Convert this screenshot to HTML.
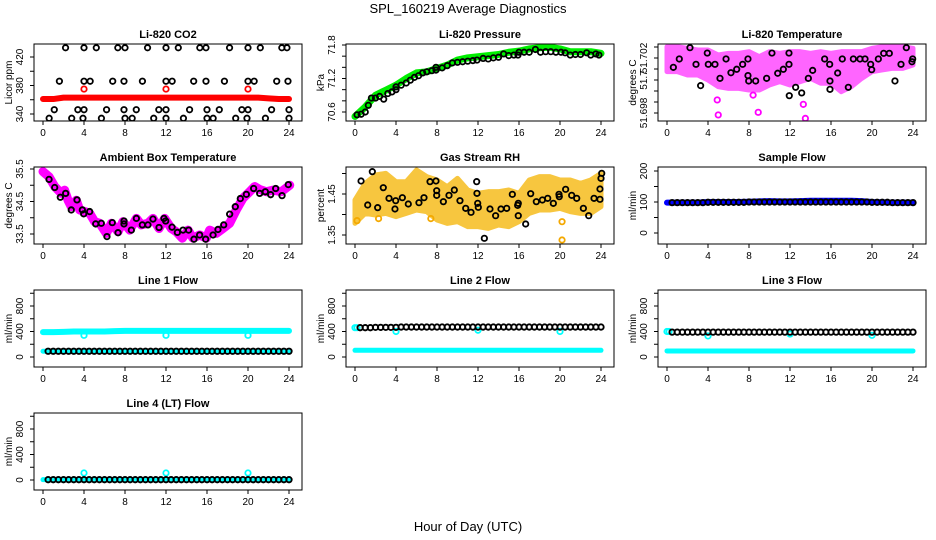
<!DOCTYPE html>
<html><head><meta charset="utf-8"><style>
body{margin:0;background:#fff}
svg{display:block;font-family:"Liberation Sans",Arial,sans-serif}
</style></head><body>
<svg id="c" width="936" height="540" viewBox="0 0 936 540">
<rect width="936" height="540" fill="#fff"/>
<text x="468" y="13" text-anchor="middle" font-size="13">SPL_160219  Average Diagnostics</text>
<text x="468" y="531" text-anchor="middle" font-size="13">Hour of Day (UTC)</text>
</svg>
<script>
const hours25=[0,1,2,3,4,5,6,7,8,9,10,11,12,13,14,15,16,17,18,19,20,21,22,23,24];
const halfHours=[0.5,1,1.5,2,2.5,3,3.5,4,4.5,5,5.5,6,6.5,7,7.5,8,8.5,9,9.5,10,10.5,11,11.5,12,12.5,13,13.5,14,14.5,15,15.5,16,16.5,17,17.5,18,18.5,19,19.5,20,20.5,21,21.5,22,22.5,23,23.5,24];
const xTicks=[0,4,8,12,16,20,24];

// CO2
const co2Red=[361,361,363,363,363,363,363,363,363,363,363,363,363,363,363,363,363,363,363,363,363,363,362,361,361];
const co2RedOutH=[4,12,20];const co2RedOutV=[375,375,375];
const co2BlkH=[2.2,4.0,5.2,7.3,8.0,10.2,12.0,13.2,15.3,15.9,18.2,20.0,21.2,23.3,23.8,1.6,4.0,4.6,6.8,7.9,9.7,12.0,12.6,14.7,15.9,17.7,20.0,20.6,22.8,23.9,1.1,3.4,4.0,6.2,7.9,9.1,11.3,12.0,14.3,16.0,17.2,19.4,20.0,22.3,24.0,0.6,2.8,3.9,5.7,8.0,8.7,10.8,12.0,13.7,16.0,16.6,18.8,19.9,21.7,24.0];
const co2BlkV=[433,433,433,433,433,433,433,433,433,433,433,433,433,433,433,386,386,386,386,386,386,386,386,386,386,386,386,386,386,386,346,346,346,346,346,346,346,346,346,346,346,346,346,346,346,334,334,334,334,334,334,334,334,334,334,334,334,334,334,334];

// Pressure
const presGreen=[70.52,70.69,70.9,70.99,71.08,71.2,71.3,71.32,71.38,71.44,71.53,71.57,71.59,71.61,71.63,71.67,71.69,71.73,71.75,71.76,71.73,71.68,71.68,71.68,71.65];
const presBlkH=[0.2,0.6,1.0,1.3,1.6,2.0,2.4,2.8,3.2,3.6,4.0,4.0,4.5,5.0,5.4,5.8,6.2,6.6,7.0,7.5,7.9,7.9,8.5,9.0,9.5,10.0,10.5,11.0,11.5,11.9,12.5,13.0,13.5,14.0,14.5,15.0,15.5,15.9,16.0,16.5,17.0,17.6,18.1,18.6,19.1,19.6,20.1,20.5,21.0,21.5,22.0,22.6,23.0,23.5,23.8];
const presBlkV=[70.55,70.56,70.6,70.72,70.85,70.85,70.88,70.83,70.93,70.96,71.0,71.05,71.08,71.12,71.17,71.22,71.25,71.3,71.32,71.34,71.35,71.4,71.39,71.43,71.48,71.49,71.5,71.51,71.52,71.53,71.56,71.55,71.57,71.58,71.64,71.61,71.62,71.62,71.67,71.67,71.67,71.72,71.67,71.68,71.68,71.67,71.67,71.66,71.62,71.63,71.63,71.66,71.62,71.64,71.62];

// Li-820 temperature
const ltUpper=[51.70282,51.70282,51.7027,51.70258,51.70258,51.70222,51.70234,51.70234,51.70246,51.7021,51.70246,51.70234,51.70246,51.70246,51.70234,51.70246,51.70234,51.70246,51.70246,51.70246,51.7027,51.70282,51.70282,51.70282,51.7027];
const ltLower=[51.70101,51.70101,51.70076,51.70076,51.7004,51.69992,51.69979,51.69979,51.69967,51.69967,51.70004,51.70028,51.70004,51.70028,51.70052,51.70016,51.70016,51.69955,51.69992,51.70052,51.70101,51.70113,51.70125,51.70125,51.70149];
const ltOutH=[4.9,5.0,8.4,8.9,13.3,13.5];const ltOutV=[51.69895,51.69786,51.6993,51.69805,51.69863,51.69761];
const ltBlkH=[0.62,1.2,2.24,2.83,3.28,3.93,4.03,4.68,5.17,5.76,6.24,6.8,7.38,7.9,7.9,7.97,8.65,9.72,10.24,10.8,11.35,11.9,11.9,11.93,12.55,13.14,13.79,14.21,15.38,15.87,15.9,15.9,16.65,17.1,17.69,18.18,18.83,19.32,19.87,19.97,20.62,21.14,21.69,22.24,22.83,23.35,23.9,23.97];
const ltBlkV=[51.70132,51.70193,51.70275,51.70154,51.69999,51.70236,51.70154,51.70154,51.70052,51.70193,51.70093,51.70118,51.70154,51.70193,51.70072,51.70033,51.70033,51.70052,51.70236,51.70089,51.70118,51.70236,51.70154,51.69926,51.69987,51.69946,51.70052,51.7011,51.70193,51.70154,51.70033,51.69972,51.70091,51.70193,51.69987,51.70193,51.70193,51.70193,51.70154,51.70115,51.70193,51.70234,51.70234,51.70033,51.70154,51.70275,51.70173,51.70193];

// Ambient box temp
const ambH=[0,0.59,1.14,1.79,2.11,2.44,2.76,3.25,3.58,4.07,4.55,5.04,5.53,6.18,6.67,7.32,7.8,8.46,9.11,9.59,10.24,10.73,11.32,11.87,12.52,13.0,13.59,14.15,14.63,15.28,15.93,16.26,16.91,17.56,18.21,18.86,19.51,20.16,20.65,21.14,21.79,22.44,23.25,24.07];
const ambV=[35.42,35.26,34.96,34.75,34.85,34.54,34.34,34.54,34.24,34.19,34.14,33.88,33.83,33.52,33.83,33.57,33.88,33.62,33.98,33.78,33.83,33.98,33.67,33.98,33.67,33.57,33.37,33.62,33.37,33.47,33.37,33.62,33.52,33.67,33.83,34.24,34.6,34.8,34.96,34.87,34.8,34.85,34.8,35.0];
const ambBlkH=[0.59,1.14,1.69,2.21,2.76,3.32,3.84,3.97,4.55,5.14,5.69,6.24,6.76,7.32,7.9,7.9,8.62,9.11,9.69,10.24,10.73,11.32,11.8,11.97,12.59,13.11,13.66,14.21,14.73,15.28,15.87,16.59,17.07,17.63,18.21,18.76,19.25,19.84,20.55,21.14,21.69,22.21,22.7,23.32,23.93];
const ambBlkV=[35.18,34.93,34.63,34.75,34.24,34.55,34.24,34.12,34.19,33.81,33.83,33.42,33.85,33.54,33.9,33.81,33.62,33.98,33.78,33.78,33.96,33.7,33.98,33.9,33.71,33.55,33.62,33.62,33.34,33.47,33.34,33.47,33.64,33.78,34.11,34.34,34.59,34.72,34.9,34.75,34.8,34.71,34.9,34.68,35.02];

// Gas stream RH
const rhUpper=[1.4354,1.476,1.4963,1.5004,1.48,1.48,1.5085,1.4923,1.4841,1.4679,1.4882,1.4597,1.4516,1.4557,1.4557,1.4597,1.4516,1.4841,1.4923,1.4923,1.4841,1.4841,1.476,1.4841,1.5004];
const rhLower=[1.3784,1.4028,1.3988,1.4028,1.3947,1.4028,1.411,1.4069,1.3866,1.3784,1.3825,1.3703,1.3703,1.3662,1.3744,1.3703,1.3825,1.4028,1.411,1.411,1.415,1.4069,1.4028,1.4028,1.4191];
const rhOutH=[20.2,20.2,0.2,2.3,7.4];const rhOutV=[1.3825,1.3378,1.385,1.39,1.39];
const rhBlkH=[0.59,1.24,1.69,2.21,2.76,3.32,3.9,3.97,4.62,5.2,6.24,6.73,7.32,7.9,7.97,7.97,8.62,9.17,9.69,10.24,10.8,11.32,11.87,11.9,11.97,12.03,12.62,13.17,13.72,14.24,14.8,15.35,15.87,15.93,15.93,16.65,17.14,17.69,18.28,18.8,19.35,19.9,19.93,20.55,21.14,21.63,22.28,22.8,23.32,23.9,23.9,24.0,24.07];
const rhBlkV=[1.4817,1.4232,1.5045,1.4167,1.4654,1.4394,1.4134,1.4337,1.441,1.4256,1.4288,1.441,1.4801,1.4817,1.4581,1.4467,1.4313,1.4467,1.4597,1.4337,1.415,1.4053,1.4801,1.4516,1.4272,1.4175,1.3419,1.4134,1.3971,1.4134,1.415,1.4492,1.4223,1.4272,1.3971,1.3768,1.4508,1.4313,1.4354,1.4394,1.4272,1.4492,1.4435,1.4614,1.4467,1.4394,1.415,1.3971,1.4394,1.437,1.4622,1.4882,1.5004];

// Sample flow
const sampleBlue=[98,98,98,98,100,100,100,100,101,102,103,102,102,103,104,104,104,104,104,103,100,99,98,98,98];
const sampleBlk=[98,98,98,98,98,98,98,99,99,99,99,99,99,99,99,100,100,100,100,100,100,100,100,100,100,100,100,100,100,100,100,100,100,100,100,100,100,100,100,99,99,99,99,98,98,98,98,98];

// Line flows
const l1CyanHi=[390,390,395,400,400,400,400,405,410,410,410,410,410,410,410,410,410,410,410,410,410,410,410,410,410];
const l1CyanLo=[90,90,90,90,90,90,90,90,90,90,90,90,90,90,90,90,90,90,90,90,90,90,90,90,90];
const l1Blk=[90,90,90,90,90,90,90,90,90,90,90,90,90,90,90,90,90,90,90,90,90,90,90,90,90,90,90,90,90,90,90,90,90,90,90,90,90,90,90,90,90,90,90,90,90,90,90,90];
const l1DotH=[4,12,20];const l1DotV=[340,340,340];
const l2CyanLo=[105,105,105,105,105,105,105,105,105,105,105,105,105,105,105,105,105,105,105,105,105,105,105,105,105];
const l2Blk=[460,460,460,465,465,465,465,465,470,470,470,470,470,470,470,470,470,470,470,470,470,470,470,470,470,470,470,470,470,470,470,470,470,470,470,470,470,470,470,470,470,470,470,470,470,470,470,470];
const l2DotH=[0,0.2,4,12,20];const l2DotV=[460,460,400,420,400];
const l3CyanLo=[95,95,95,95,95,95,95,95,95,95,95,95,95,95,95,95,95,95,95,95,95,95,95,95,95];
const l3Blk=[390,390,390,390,390,390,390,390,390,390,390,390,390,390,390,390,390,390,390,390,390,390,390,390,390,390,390,390,390,390,390,390,390,390,390,390,390,390,390,390,390,390,390,390,390,390,390,390];
const l3DotH=[0,0.2,4,12,20];const l3DotV=[400,400,330,360,340];
const l4CyanLo=[5,5,5,5,5,5,5,5,5,5,5,5,5,5,5,5,5,5,5,5,5,5,5,5,5];
const l4Blk=[5,5,5,5,5,5,5,5,5,5,5,5,5,5,5,5,5,5,5,5,5,5,5,5,5,5,5,5,5,5,5,5,5,5,5,5,5,5,5,5,5,5,5,5,5,5,5,5];
const l4DotH=[4,12,20];const l4DotV=[110,110,110];

const svg=document.getElementById('c');
const NS='http://www.w3.org/2000/svg';
function mk(tag,attrs,parent){const e=document.createElementNS(NS,tag);for(const k in attrs)e.setAttribute(k,attrs[k]);(parent||svg).appendChild(e);return e;}

function panel(col,row,title,ytitle,anchor,yticks,ylabels,name){
  const left=34+312*col,top=44+123*row,w=268,h=77;
  const g=mk('g',{});
  
  
  const x=v=>left+9+v*10.25;
  const [va,oa,vb,ob]=anchor;
  const y=v=>top+oa+(v-va)*(ob-oa)/(vb-va);
  const t=mk('text',{x:left+w/2,y:top-6,'text-anchor':'middle','font-size':11,'font-weight':'bold'},g);
  t.textContent=title;
  
  
  const yt=mk('text',{x:0,y:0,'text-anchor':'middle','font-size':10,transform:`translate(${left-22},${top+h/2}) rotate(-90)`},g);
  yt.textContent=ytitle;
  
  
  const xa=mk('g',{stroke:'#000','stroke-width':1},g);
  
  
  mk('line',{x1:x(xTicks[0]),x2:x(xTicks[xTicks.length-1]),y1:top+h,y2:top+h},xa);
  xTicks.forEach(v=>{mk('line',{x1:x(v),x2:x(v),y1:top+h,y2:top+h+4},xa);
    const l=mk('text',{x:x(v),y:top+h+15,'text-anchor':'middle','font-size':10,stroke:'none'},xa);l.textContent=v;});
  const ya=mk('g',{stroke:'#000','stroke-width':1},g);
  
  
  mk('line',{x1:left,x2:left,y1:y(yticks[0]),y2:y(yticks[yticks.length-1])},ya);
  yticks.forEach((v,i)=>{mk('line',{x1:left-4,x2:left,y1:y(v),y2:y(v)},ya);
    if(ylabels[i]){const l=mk('text',{x:0,y:0,'text-anchor':'middle','font-size':10,stroke:'none',transform:`translate(${left-11},${y(v)}) rotate(-90)`},ya);l.textContent=ylabels[i];}});
  const clip='clip'+col+row;
  const cp=mk('clipPath',{id:clip},g);mk('rect',{x:left,y:top,width:w,height:h},cp);
  const d=mk('g',{'clip-path':`url(#${clip})`},g);
  
  
  mk('rect',{x:left,y:top,width:w,height:h,fill:'none',stroke:'#000','stroke-width':1},g);
  return {x,y,d};
}
function line(p,hs,vs,color,wd,nm){
  const e=mk('polyline',{points:hs.map((hh,i)=>p.x(hh)+','+p.y(vs[i])).join(' '),fill:'none',stroke:color,'stroke-width':wd,'stroke-linejoin':'round','stroke-linecap':'round'},p.d);
  
  
}
function pts(p,hs,vs,color,nm,sw){
  const g=mk('g',{fill:'none',stroke:color,'stroke-width':sw||1.8},p.d);
  
  
  hs.forEach((hh,i)=>{mk('circle',{cx:p.x(hh),cy:p.y(vs[i]),r:2.7},g);});
}
function band(p,hs,up,lo,color,op,nm){
  const a=hs.map((hh,i)=>p.x(hh)+','+p.y(up[i]));
  const b=hs.map((hh,i)=>p.x(hh)+','+p.y(lo[i])).reverse();
  const e=mk('polygon',{points:a.concat(b).join(' '),fill:color,stroke:color,'stroke-width':5,'stroke-linejoin':'round',opacity:op},p.d);
  
  
}

let p=panel(0,0,'Li-820 CO2','Licor ppm',[340,70,420,13],[340,360,380,400,420],['340','','380','','420'],'co2');
line(p,hours25,co2Red,'#ff0000',6,'co2-red-series');
pts(p,co2RedOutH,co2RedOutV,'#ff0000','co2-red-outliers');
pts(p,co2BlkH,co2BlkV,'#000','co2-black-points');

p=panel(1,0,'Li-820 Pressure','kPa',[70.6,68,71.8,1],[70.6,70.8,71.0,71.2,71.4,71.6,71.8],['70.6','','','71.2','','','71.8'],'pressure');
line(p,hours25,presGreen,'#00ee00',7,'pressure-green-series');
pts(p,presBlkH,presBlkV,'#000','pressure-black-points');

p=panel(2,0,'Li-820 Temperature','degrees C',[51.698,69,51.702,14],[51.698,51.6988,51.6996,51.7004,51.7012,51.702,51.7028],['51.698','','','51.7','','51.702',''],'li820-temp');
band(p,hours25,ltUpper,ltLower,'#ff00ff',0.6,'li820-temp-magenta-band');
pts(p,ltOutH,ltOutV,'#ff00ff','li820-temp-magenta-outliers');
pts(p,ltBlkH,ltBlkV,'#000','li820-temp-black-points');

p=panel(0,1,'Ambient Box Temperature','degrees C',[33.5,67,35.5,2],[33.5,34,34.5,35,35.5],['33.5','','34.5','','35.5'],'ambient-temp');
line(p,ambH,ambV,'#ff00ff',9,'ambient-magenta-series');
pts(p,ambBlkH,ambBlkV,'#000','ambient-black-points',1.9);

p=panel(1,1,'Gas Stream RH','percent',[1.35,68,1.45,27],[1.35,1.40,1.45,1.50],['1.35','','1.45',''],'rh');
band(p,hours25,rhUpper,rhLower,'#f5b400',0.75,'rh-orange-band');
pts(p,rhOutH,rhOutV,'#f4a800','rh-orange-outliers');
pts(p,rhBlkH,rhBlkV,'#000','rh-black-points');

p=panel(2,1,'Sample Flow','ml/min',[0,66,200,4],[0,50,100,150,200],['0','','100','','200'],'sample-flow');
line(p,hours25,sampleBlue,'#0000ff',6,'sample-blue-series');
pts(p,halfHours,sampleBlk,'#000','sample-black-points',1.9);

const ft=[0,200,400,600,800,1000],fl=['0','','400','','800',''];
p=panel(0,2,'Line 1 Flow','ml/min',[0,67,800,16],ft,fl,'line1-flow');
line(p,hours25,l1CyanHi,'#00ffff',6,'line1-cyan-high');
line(p,hours25,l1CyanLo,'#00ffff',5,'line1-cyan-low');
pts(p,l1DotH,l1DotV,'#00ffff','line1-cyan-dips');
pts(p,halfHours,l1Blk,'#000','line1-black-points',1.9);
p=panel(1,2,'Line 2 Flow','ml/min',[0,67,800,16],ft,fl,'line2-flow');
line(p,hours25,l2CyanLo,'#00ffff',5,'line2-cyan-low');
pts(p,l2DotH,l2DotV,'#00ffff','line2-cyan-dots');
pts(p,halfHours,l2Blk,'#000','line2-black-points',1.9);
p=panel(2,2,'Line 3 Flow','ml/min',[0,67,800,16],ft,fl,'line3-flow');
line(p,hours25,l3CyanLo,'#00ffff',5,'line3-cyan-low');
pts(p,l3DotH,l3DotV,'#00ffff','line3-cyan-dots');
pts(p,halfHours,l3Blk,'#000','line3-black-points',1.9);
p=panel(0,3,'Line 4 (LT) Flow','ml/min',[0,67,800,16],ft,fl,'line4-flow');
line(p,hours25,l4CyanLo,'#00ffff',5,'line4-cyan-low');
pts(p,l4DotH,l4DotV,'#00ffff','line4-cyan-dots');
pts(p,halfHours,l4Blk,'#000','line4-black-points',1.9);
</script>
</body></html>
